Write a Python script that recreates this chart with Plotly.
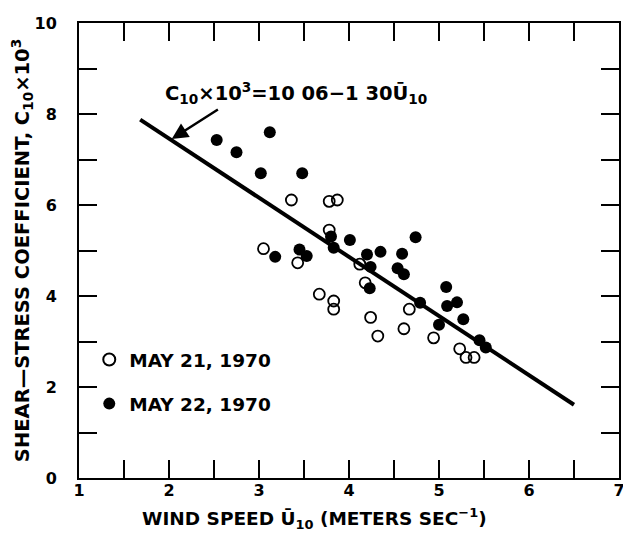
import plotly.graph_objects as go

# May 21, 1970 (open circles)
may21_u = [3.36, 3.78, 3.87, 3.78, 3.05, 3.43, 3.67, 3.83, 3.83, 4.18, 4.24, 4.32, 4.12,
           4.67, 4.61, 4.94, 5.23, 5.30, 5.39]
may21_c = [6.11, 6.08, 6.11, 5.45, 5.04, 4.73, 4.04, 3.89, 3.71, 4.29, 3.53, 3.12, 4.70,
           3.71, 3.28, 3.08, 2.84, 2.65, 2.65]

# May 22, 1970 (filled circles)
may22_u = [2.53, 2.75, 3.12, 3.02, 3.48, 3.18, 3.45, 3.53, 3.80, 3.83, 4.01, 4.20, 4.35,
           4.24, 4.23, 4.54, 4.74, 4.59, 4.61, 4.79, 5.08, 5.09, 5.20, 5.27, 5.00, 5.45, 5.52]
may22_c = [7.43, 7.16, 7.60, 6.70, 6.70, 4.86, 5.02, 4.88, 5.31, 5.06, 5.23, 4.91, 4.97,
           4.64, 4.17, 4.61, 5.29, 4.93, 4.48, 3.85, 4.20, 3.78, 3.86, 3.49, 3.37, 3.03, 2.87]

# Fitted line C10 x 10^3 = 10.06 - 1.30 U10
fit_intercept = 10.06
fit_slope = 1.30
fit_u = [1.68, 6.5]
fit_c = [fit_intercept - fit_slope * u for u in fit_u]

FONT = "DejaVu Sans"

fig = go.Figure()
fig.add_trace(go.Scatter(x=fit_u, y=fit_c, mode="lines",
                         line=dict(color="black", width=4), showlegend=False,
                         hoverinfo="skip"))
fig.add_trace(go.Scatter(x=may21_u, y=may21_c, mode="markers", name="MAY 21, 1970",
                         marker=dict(symbol="circle-open", size=11, color="black",
                                     line=dict(width=1.8, color="black")),
                         legendgroup="a"))
fig.add_trace(go.Scatter(x=may22_u, y=may22_c, mode="markers", name="MAY 22, 1970",
                         marker=dict(symbol="circle", size=12, color="black"),
                         legendgroup="b"))

fig.add_annotation(x=1.93, y=8.47, xref="x", yref="y", xanchor="left", yanchor="middle",
                   text="C<sub>10</sub>×10<sup>3</sup>=10 06−1 30Ū<sub>10</sub>",
                   showarrow=False, font=dict(family=FONT, size=19.5, color="black", weight="bold"))
fig.add_annotation(x=2.03, y=7.45, ax=2.56, ay=8.12, xref="x", yref="y", axref="x", ayref="y",
                   text="", showarrow=True, arrowhead=2, arrowsize=1.3, arrowwidth=2.5,
                   arrowcolor="black")

# x-axis title (placed as in the reference, slightly left of centre)
fig.add_annotation(x=0.437, y=-0.088, xref="paper", yref="paper", xanchor="center",
                   yanchor="middle", showarrow=False,
                   text="WIND SPEED Ū<sub>10</sub> (METERS SEC<sup>−1</sup>)",
                   font=dict(family=FONT, size=18.5, color="black", weight="bold"))

axis_common = dict(showline=True, linecolor="black", linewidth=2, mirror="ticks",
                   ticks="inside", ticklen=18, tickwidth=2, tickcolor="black",
                   showgrid=False, zeroline=False, ticklabeloverflow="allow",
                   tickfont=dict(family=FONT, size=16, color="black", weight="bold"))

fig.update_xaxes(range=[1, 7], dtick=1, tick0=1, ticklabelstandoff=-3,
                 minor=dict(dtick=0.5, ticks="inside", ticklen=18, tickwidth=2,
                            tickcolor="black", showgrid=False),
                 **axis_common)
fig.update_yaxes(range=[0, 10], dtick=2, tick0=0, ticklabelstandoff=17,
                 minor=dict(dtick=1, ticks="inside", ticklen=18, tickwidth=2,
                            tickcolor="black", showgrid=False),
                 title=dict(text="SHEAR—STRESS COEFFICIENT, C<sub>10</sub>×10<sup>3</sup>",
                            font=dict(family=FONT, size=19.5, color="black", weight="bold"),
                            standoff=7),
                 **axis_common)

# page body has an 8px margin, so the figure is sized to sit inside the 631x540 window
fig.update_layout(width=623, height=532, margin=dict(l=64, r=6, t=6, b=62),
                  plot_bgcolor="white", paper_bgcolor="white",
                  legend=dict(x=0.019, y=0.301, xanchor="left", yanchor="top",
                              bgcolor="rgba(0,0,0,0)", itemsizing="constant",
                              itemwidth=30,
                              tracegroupgap=17, traceorder="grouped",
                              font=dict(family=FONT, size=18.5, color="black", weight="bold")),
                  showlegend=True)

fig.write_html("out.html")
